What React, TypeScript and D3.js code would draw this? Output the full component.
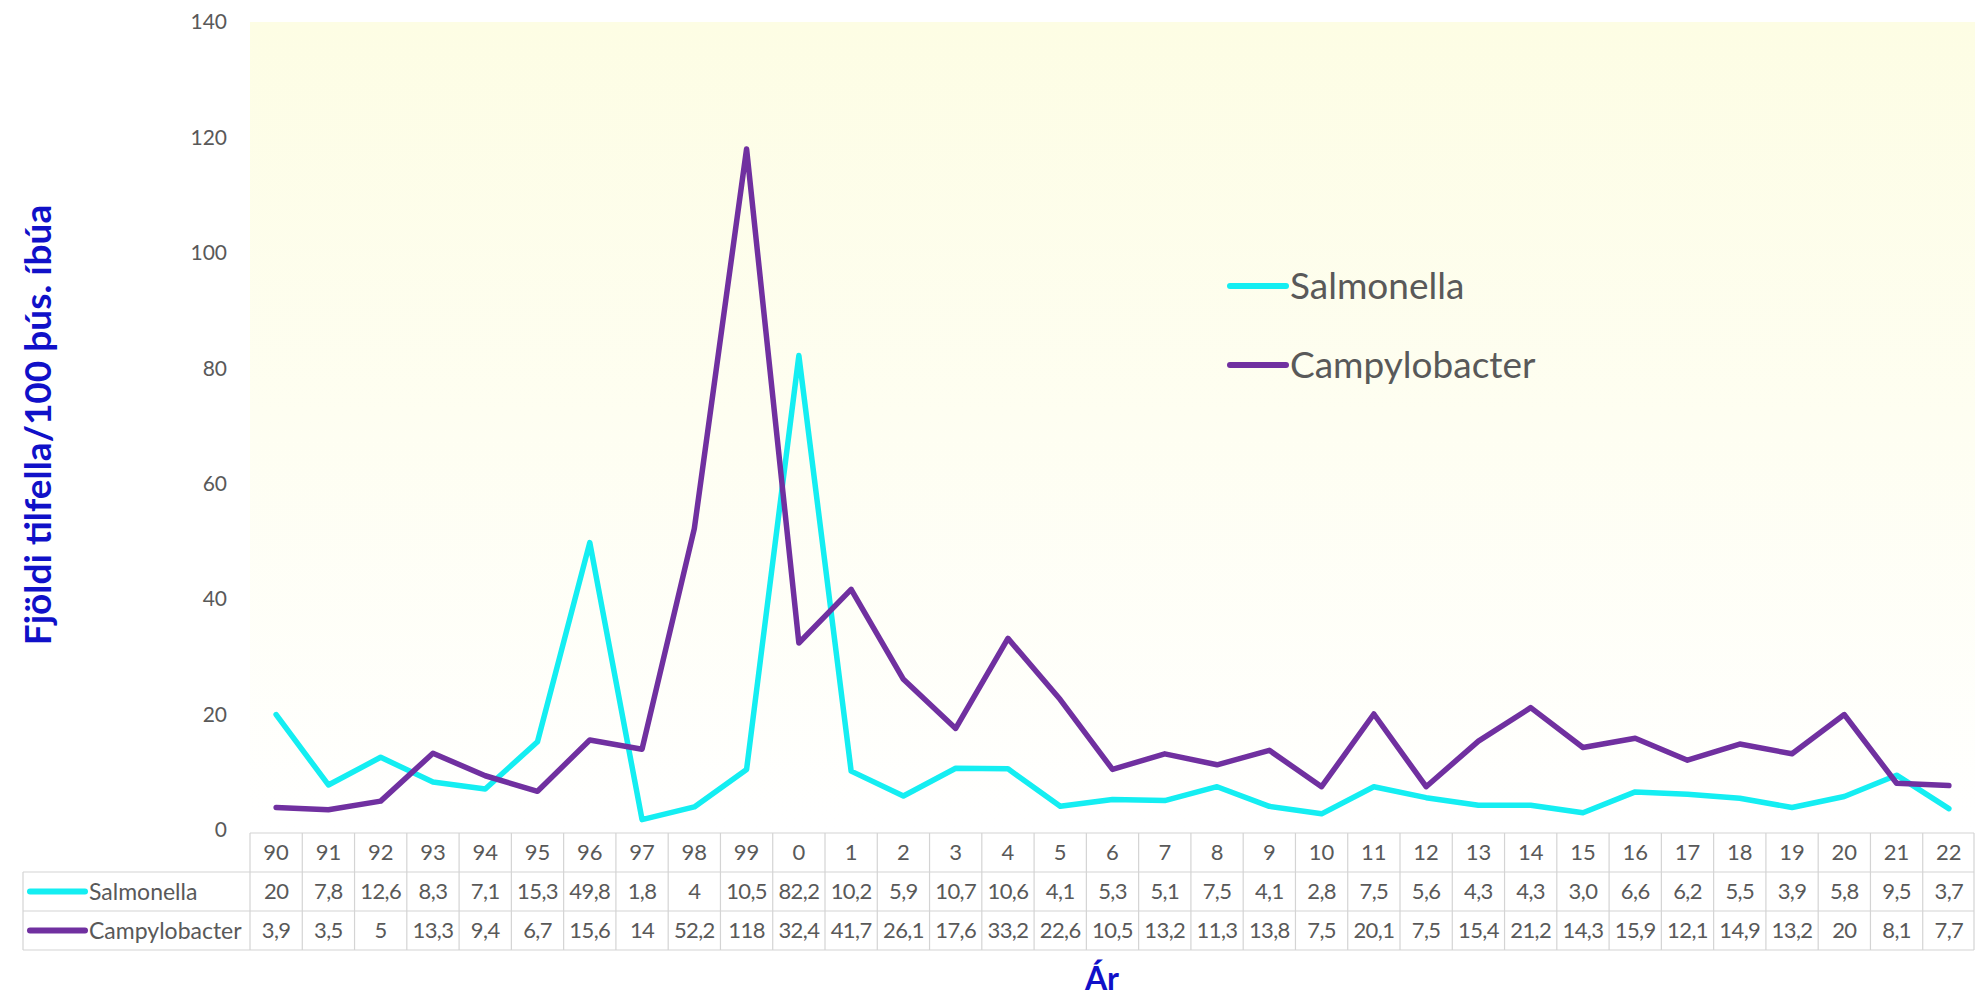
import React, { useEffect } from 'react'
import * as d3 from 'd3'

const years = ['90', '91', '92', '93', '94', '95', '96', '97', '98', '99', '0', '1', '2', '3', '4', '5', '6', '7', '8', '9', '10', '11', '12', '13', '14', '15', '16', '17', '18', '19', '20', '21', '22']
const salmonella = [20, 7.8, 12.6, 8.3, 7.1, 15.3, 49.8, 1.8, 4, 10.5, 82.2, 10.2, 5.9, 10.7, 10.6, 4.1, 5.3, 5.1, 7.5, 4.1, 2.8, 7.5, 5.6, 4.3, 4.3, 3.0, 6.6, 6.2, 5.5, 3.9, 5.8, 9.5, 3.7]
const campylobacter = [3.9, 3.5, 5, 13.3, 9.4, 6.7, 15.6, 14, 52.2, 118, 32.4, 41.7, 26.1, 17.6, 33.2, 22.6, 10.5, 13.2, 11.3, 13.8, 7.5, 20.1, 7.5, 15.4, 21.2, 14.3, 15.9, 12.1, 14.9, 13.2, 20, 8.1, 7.7]
const salmonellaLabels = ['20', '7,8', '12,6', '8,3', '7,1', '15,3', '49,8', '1,8', '4', '10,5', '82,2', '10,2', '5,9', '10,7', '10,6', '4,1', '5,3', '5,1', '7,5', '4,1', '2,8', '7,5', '5,6', '4,3', '4,3', '3,0', '6,6', '6,2', '5,5', '3,9', '5,8', '9,5', '3,7']
const campylobacterLabels = ['3,9', '3,5', '5', '13,3', '9,4', '6,7', '15,6', '14', '52,2', '118', '32,4', '41,7', '26,1', '17,6', '33,2', '22,6', '10,5', '13,2', '11,3', '13,8', '7,5', '20,1', '7,5', '15,4', '21,2', '14,3', '15,9', '12,1', '14,9', '13,2', '20', '8,1', '7,7']
const yTicks = [0, 20, 40, 60, 80, 100, 120, 140]

const series = [
  { name: 'Salmonella', values: salmonella, labels: salmonellaLabels, color: '#14EEF2' },
  { name: 'Campylobacter', values: campylobacter, labels: campylobacterLabels, color: '#7030A0' }
]

const W = 1975
const H = 996
const font = 'Lato, Calibri, "Open Sans", sans-serif'
const grey = '#595959'

const App = () => {
  useEffect(() => {
    document.body.style.margin = '0'
  }, [])

  const margin = { top: 22, right: 0, bottom: 166, left: 250 }
  const x = d3.scaleBand().domain(years).range([margin.left, W - margin.right])
  const y = d3.scaleLinear().domain([0, 140]).range([H - margin.bottom, margin.top])
  const cx = (d: string) => (x(d) as number) + x.bandwidth() / 2

  const line = d3
    .line<number>()
    .x((d, i) => cx(years[i]))
    .y((d) => y(d))

  const tableTop = y(0) + 3
  const rowH = 39
  const tableLeft = 23
  const tableRight = W - 1

  return (
    <svg width={W} height={H} style={{ display: 'block', fontFamily: font }}>
      <defs>
        <linearGradient id="bg" x1="0" y1="0" x2="0" y2="1">
          <stop offset="0" stopColor="#FDFDE4" />
          <stop offset="1" stopColor="#FFFFFF" />
        </linearGradient>
      </defs>
      <rect x={margin.left} y={margin.top} width={W - margin.left} height={y(0) - margin.top} fill="url(#bg)" />

      {yTicks.map((t) => (
        <text key={t} x={227} y={y(t)} dy="0.35em" textAnchor="end" fontSize={21} fill={grey}>
          {t}
        </text>
      ))}

      {series.map((s) => (
        <path
          key={s.name}
          d={line(s.values) as string}
          fill="none"
          stroke={s.color}
          strokeWidth={5.5}
          strokeLinejoin="round"
          strokeLinecap="round"
        />
      ))}

      {/* legend */}
      {series.map((s, i) => (
        <g key={s.name} transform={`translate(1230,${286 + i * 79})`}>
          <line x1={0} x2={56} y1={0} y2={0} stroke={s.color} strokeWidth={6} strokeLinecap="round" />
          <text x={60} y={0} dy="0.35em" fontSize={37} fill={grey}>
            {s.name}
          </text>
        </g>
      ))}

      {/* data table */}
      <g stroke="#D4D4D4" strokeWidth={1.2}>
        <line x1={margin.left} x2={tableRight} y1={tableTop} y2={tableTop} />
        <line x1={tableLeft} x2={tableRight} y1={tableTop + rowH} y2={tableTop + rowH} />
        <line x1={tableLeft} x2={tableRight} y1={tableTop + rowH * 2} y2={tableTop + rowH * 2} />
        <line x1={tableLeft} x2={tableRight} y1={tableTop + rowH * 3} y2={tableTop + rowH * 3} />
        <line x1={tableLeft} x2={tableLeft} y1={tableTop + rowH} y2={tableTop + rowH * 3} />
        {years.map((yr) => (
          <line key={yr} x1={x(yr)} x2={x(yr)} y1={tableTop} y2={tableTop + rowH * 3} />
        ))}
        <line x1={tableRight} x2={tableRight} y1={tableTop} y2={tableTop + rowH * 3} />
      </g>
      {years.map((yr) => (
        <text key={yr} x={cx(yr)} y={tableTop + rowH / 2} dy="0.35em" textAnchor="middle" fontSize={22} fill={grey}>
          {yr}
        </text>
      ))}
      {series.map((s, r) => (
        <g key={s.name}>
          <line
            x1={tableLeft + 7}
            x2={tableLeft + 62}
            y1={tableTop + rowH * (r + 1.5)}
            y2={tableTop + rowH * (r + 1.5)}
            stroke={s.color}
            strokeWidth={6}
            strokeLinecap="round"
          />
          <text x={tableLeft + 66} y={tableTop + rowH * (r + 1.5)} dy="0.35em" fontSize={23} fill={grey}>
            {s.name}
          </text>
          {s.labels.map((l, i) => (
            <text
              key={i}
              x={cx(years[i])}
              y={tableTop + rowH * (r + 1.5)}
              dy="0.35em"
              textAnchor="middle"
              fontSize={22}
              fill={grey}
              letterSpacing={-0.6}
            >
              {l}
            </text>
          ))}
        </g>
      ))}

      {/* axis titles */}
      <text x={1102} y={990} textAnchor="middle" fontSize={32} fontWeight="bold" fill="#1010C8">
        Ár
      </text>
      <text
        transform={`translate(51,425) rotate(-90)`}
        textAnchor="middle"
        fontSize={37}
        fontWeight="bold"
        fill="#1010C8"
      >
        Fjöldi tilfella/100 þús. íbúa
      </text>
    </svg>
  )
}

export default App
